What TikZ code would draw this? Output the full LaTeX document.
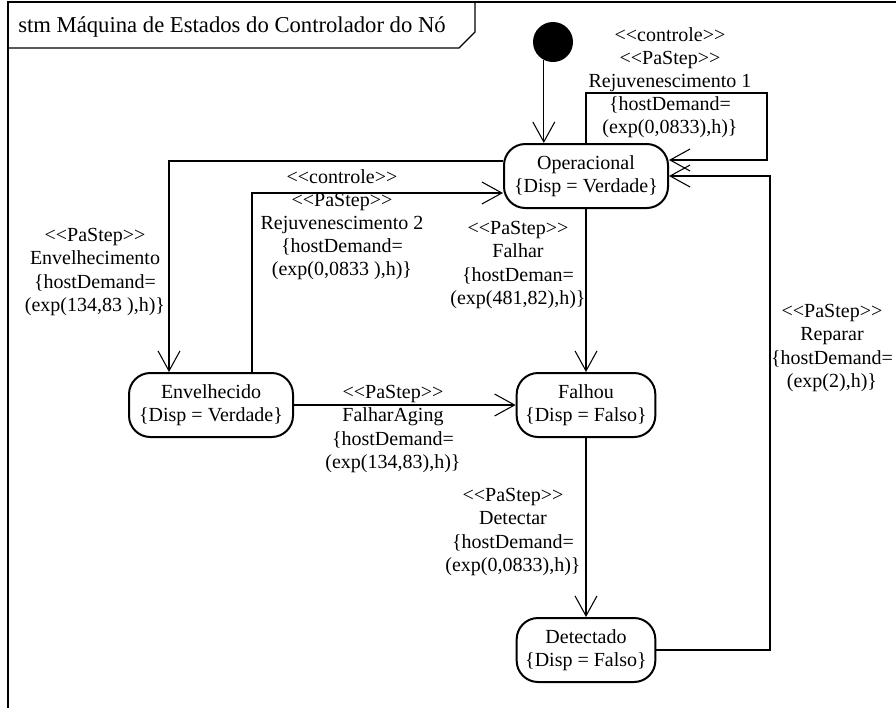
\documentclass[tikz,border=0pt]{standalone}
\usepackage{fontspec}
\setmainfont{Liberation Serif}[Ligatures=TeXOff]
\usetikzlibrary{arrows.meta,positioning,calc}

\begin{document}
\begin{tikzpicture}[
    x=0.75pt, y=-0.75pt,
    font=\fontsize{15}{17.3}\selectfont,
    state/.style={draw=black, rounded corners=16pt, line width=1.5pt, align=center, minimum width=123pt, minimum height=48pt, inner sep=2pt},
    initial/.style={circle, fill=black, minimum size=30pt, inner sep=0pt},
    trans/.style={-{Straight Barb[length=15pt, width=16.5pt, line width=0.8pt]}, line width=0.8pt},
    lbl/.style={align=center, inner sep=0pt},
    frame/.style={line width=1pt}
]
\useasboundingbox (0,0) rectangle (896,708);

% Frame with name tab
\draw[frame] (896,2) -- (8,2) -- (8,708);
\draw[frame] (8,48) -- (459,48) -- (475,32) -- (475,2);
\node[anchor=west, inner sep=0pt, font=\fontsize{17}{20}\selectfont] (title) at (18,27) {stm Máquina de Estados do Controlador do Nó};

% States
\node[initial] (init) at (553,42) {};
\node[state] (oper) at (586,176) {Operacional\\\{Disp = Verdade\}};
\node[state] (envh) at (211,405) {Envelhecido\\\{Disp = Verdade\}};
\node[state, minimum width=104pt] (falhou) at (586,405) {Falhou\\\{Disp = Falso\}};
\node[state, minimum width=104pt] (detect) at (586,650) {Detectado\\\{Disp = Falso\}};

% Initial transition
\draw[trans] (init.243) -- (init.243 |- oper.north);

% Rejuvenescimento 1 (self loop)
\draw[trans] (oper.north) |- (767,93) |- ([yshift=12pt]oper.east);
\node[lbl] (rejuv1) at (670,83) {<<controle>>\\<<PaStep>>\\Rejuvenescimento 1\\\{hostDemand=\\(exp(0,0833),h)\}};

% Envelhecimento
\draw[trans] ([yshift=11.25pt]oper.west) -| ([xshift=-31.5pt]envh.north);
\node[lbl] (envlbl) at (95,272) {<<PaStep>>\\Envelhecimento\\\{hostDemand=\\(exp(134,83 ),h)\}};

% Rejuvenescimento 2
\draw[trans] ([xshift=30.75pt]envh.north) |- ([yshift=-12.75pt]oper.west);
\node[lbl] (rejuv2) at (342,225) {<<controle>>\\<<PaStep>>\\Rejuvenescimento 2\\\{hostDemand=\\(exp(0,0833 ),h)\}};

% Falhar
\draw[trans] (oper.south) -- (falhou.north);
\node[lbl] (falhar) at (518,265) {<<PaStep>>\\Falhar\\\{hostDeman=\\(exp(481,82),h)\}};

% FalharAging
\draw[trans] (envh.east) -- (falhou.west);
\node[lbl] (aging) at (393,429) {<<PaStep>>\\FalharAging\\\{hostDemand=\\(exp(134,83),h)\}};

% Detectar
\draw[trans] (falhou.south) -- (detect.north);
\node[lbl] (detectar) at (513,532) {<<PaStep>>\\Detectar\\\{hostDemand=\\(exp(0,0833),h)\}};

% Reparar
\draw[trans] (detect.east) -| (770,176) -- (oper.east);
\node[lbl] (reparar) at (832,348) {<<PaStep>>\\Reparar\\\{hostDemand=\\(exp(2),h)\}};

\end{tikzpicture}
\end{document}
